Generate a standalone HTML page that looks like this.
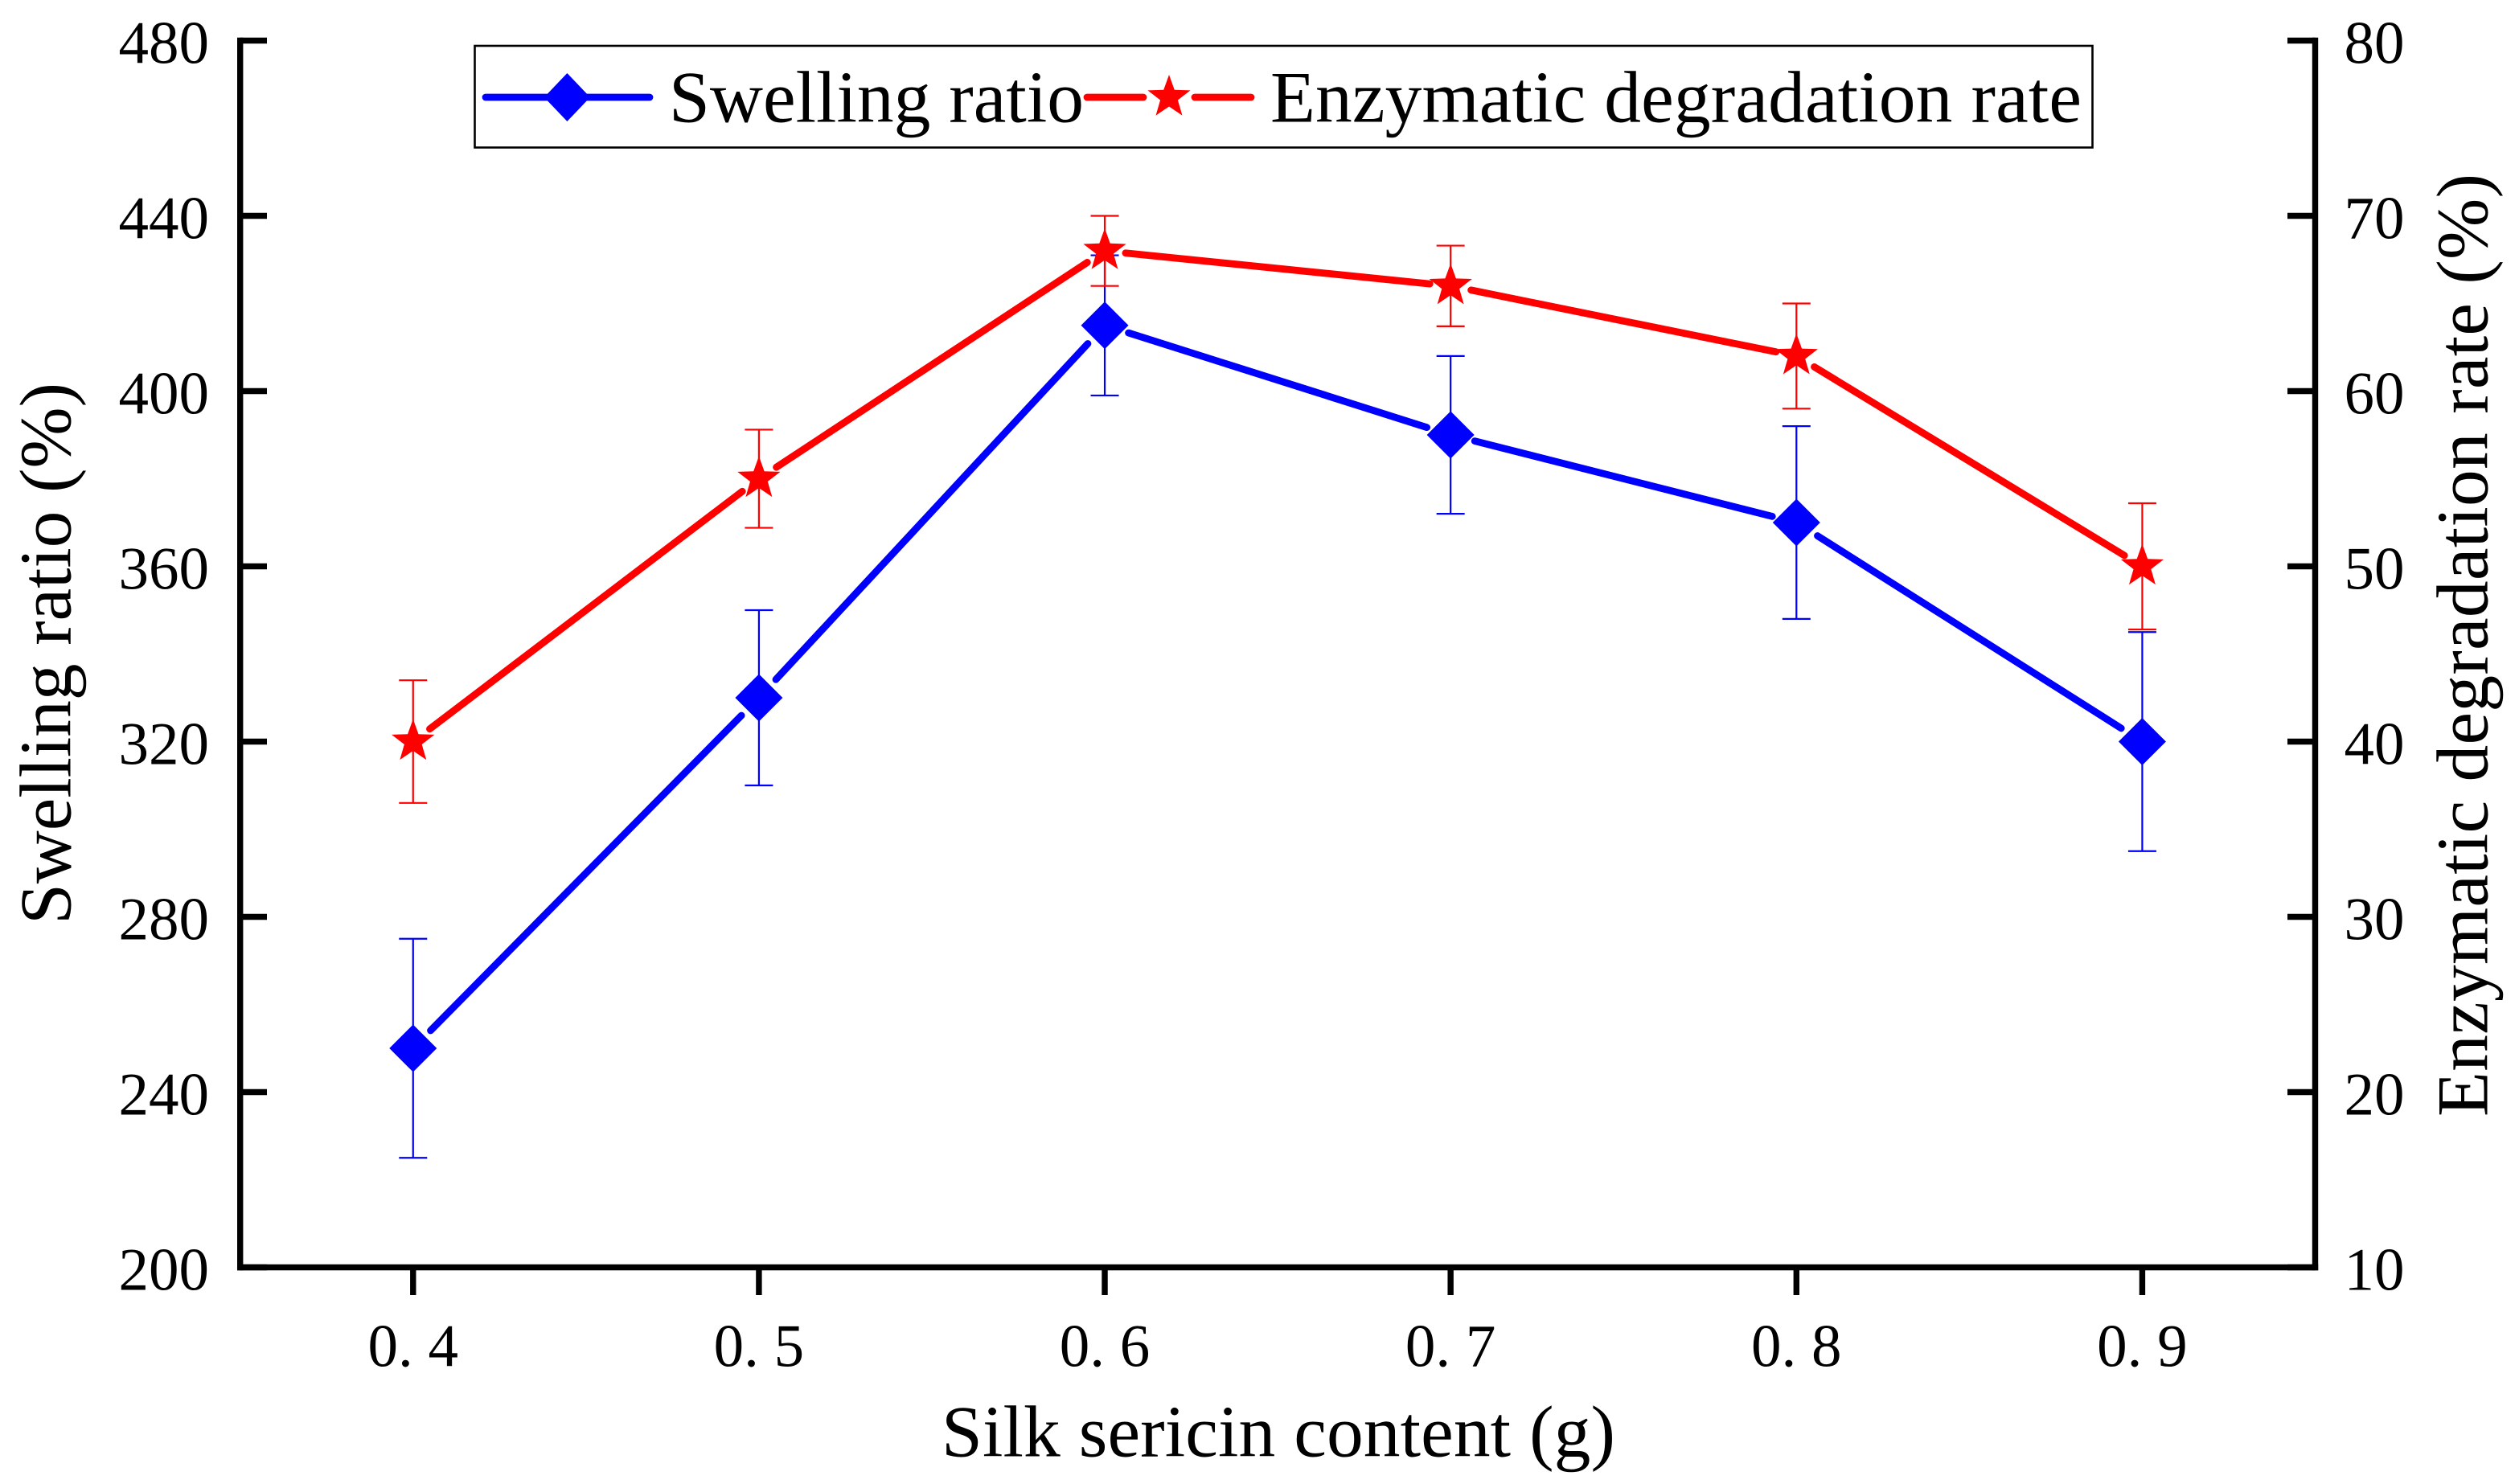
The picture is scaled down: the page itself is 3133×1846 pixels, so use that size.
<!DOCTYPE html>
<html lang="en">
<head>
<meta charset="utf-8">
<title>Swelling ratio and enzymatic degradation rate vs silk sericin content</title>
<style>
html,body{margin:0;padding:0;background:#fff;}
body{width:3133px;height:1846px;overflow:hidden;}
svg{display:block;}
text{font-family:"Liberation Serif",serif;fill:#000;}
.tick{font-size:75px;}
.title{font-size:91.5px;}
</style>
</head>
<body>
<svg id="chart" xmlns="http://www.w3.org/2000/svg" width="3133" height="1846" viewBox="0 0 3133 1846">
  <rect x="0" y="0" width="3133" height="1846" fill="#fff"/>
  <g id="axes"></g>
  <g id="series-swelling"></g>
  <g id="series-enzymatic"></g>

  <g>
    <rect x="590.5" y="57" width="2012" height="126.5" fill="#fff" stroke="#000" stroke-width="2.6"/>
    <line x1="604" y1="121" x2="808" y2="121" stroke="#0000ff" stroke-width="8.8" stroke-linecap="round"/>
    <polygon points="705.4,91 734,121 705.4,151 676.8,121" fill="#0000ff"/>
    <text class="title" x="832" y="151.7" textLength="516" lengthAdjust="spacing">Swelling ratio</text>
    <line x1="1352" y1="121" x2="1422" y2="121" stroke="#ff0000" stroke-width="8.8" stroke-linecap="round"/>
    <line x1="1486" y1="121" x2="1556" y2="121" stroke="#ff0000" stroke-width="8.8" stroke-linecap="round"/>
    <polygon id="legend-star" fill="#ff0000"/>
    <text class="title" x="1580" y="151.7" textLength="1009" lengthAdjust="spacing">Enzymatic degradation rate</text>
  </g>

  <text class="title" x="1171" y="1811.7" textLength="838" lengthAdjust="spacing">Silk sericin content (g)</text>
  <text class="title" transform="translate(87.3 1150) rotate(-90)" x="0" y="0" textLength="674" lengthAdjust="spacing">Swelling ratio (%)</text>
  <text class="title" transform="translate(3093.5 1389) rotate(-90)" x="0" y="0" textLength="1173" lengthAdjust="spacing">Enzymatic degradation rate (%)</text>
</svg>

<script>
const categories = [0.4, 0.5, 0.6, 0.7, 0.8, 0.9];
const categoryLabels = ['0. 4', '0. 5', '0. 6', '0. 7', '0. 8', '0. 9'];
const swellingValues = [250, 330, 415, 390, 370, 320];
const swellingErrors = [25, 20, 16, 18, 22, 25];
const enzymaticValues = [40, 55, 68, 66, 62, 50];
const enzymaticErrors = [3.5, 2.8, 2, 2.3, 3, 3.6];
const leftTicks = [200, 240, 280, 320, 360, 400, 440, 480];
const rightTicks = [10, 20, 30, 40, 50, 60, 70, 80];

const NS = 'http://www.w3.org/2000/svg';
const plot = { left: 298.7, right: 2879.5, top: 50.5, bottom: 1576.5 };
const xDomain = [0.35, 0.95];
const leftDomain = [200, 480];
const rightDomain = [10, 80];

function xScale(v) {
  return plot.left + (v - xDomain[0]) / (xDomain[1] - xDomain[0]) * (plot.right - plot.left);
}
function yLeft(v) {
  return plot.bottom - (v - leftDomain[0]) / (leftDomain[1] - leftDomain[0]) * (plot.bottom - plot.top);
}
function yRight(v) {
  return plot.bottom - (v - rightDomain[0]) / (rightDomain[1] - rightDomain[0]) * (plot.bottom - plot.top);
}
function make(tag, attrs, parent) {
  const el = document.createElementNS(NS, tag);
  for (const k in attrs) el.setAttribute(k, attrs[k]);
  parent.appendChild(el);
  return el;
}
function starPoints(cx, cy, R) {
  const r = R * 0.41;
  const pts = [];
  for (let i = 0; i < 10; i++) {
    const a = -Math.PI / 2 + i * Math.PI / 5;
    const rad = i % 2 === 0 ? R : r;
    pts.push((cx + rad * Math.cos(a)).toFixed(2) + ',' + (cy + rad * Math.sin(a)).toFixed(2));
  }
  return pts.join(' ');
}
function diamondPoints(cx, cy, h) {
  return [[cx, cy - h], [cx + h, cy], [cx, cy + h], [cx - h, cy]].map(p => p[0].toFixed(2) + ',' + p[1].toFixed(2)).join(' ');
}

document.getElementById('legend-star').setAttribute('points', starPoints(1454, 121, 28));

const axes = document.getElementById('axes');
const black = { stroke: '#000', 'stroke-width': 7.4, fill: 'none' };

const leftLine = make('line', Object.assign({ x1: plot.left, y1: plot.top - 3.7, x2: plot.left, y2: plot.bottom + 3.7 }, black), axes);


const rightLine = make('line', Object.assign({ x1: plot.right, y1: plot.top - 3.7, x2: plot.right, y2: plot.bottom + 3.7 }, black), axes);


const bottomLine = make('line', Object.assign({ x1: plot.left - 3.7, y1: plot.bottom, x2: plot.right + 3.7, y2: plot.bottom }, black), axes);



leftTicks.forEach(function (t) {
  const y = yLeft(t);
  const mark = make('line', Object.assign({ x1: plot.left, y1: y, x2: 332, y2: y }, black), axes);
  
  
  const label = make('text', { class: 'tick', x: 260, y: y + 28, 'text-anchor': 'end' }, axes);
  label.textContent = String(t);
  
  
});
rightTicks.forEach(function (t) {
  const y = yRight(t);
  const mark = make('line', Object.assign({ x1: plot.right, y1: y, x2: 2845, y2: y }, black), axes);
  
  
  const label = make('text', { class: 'tick', x: 2915.5, y: y + 28, 'text-anchor': 'start' }, axes);
  label.textContent = String(t);
  
  
});
categories.forEach(function (c, i) {
  const x = xScale(c);
  const mark = make('line', Object.assign({ x1: x, y1: plot.bottom, x2: x, y2: 1611 }, black), axes);
  
  
  const label = make('text', { class: 'tick', x: x, y: 1699.5, 'text-anchor': 'middle', 'xml:space': 'preserve' }, axes);
  label.textContent = categoryLabels[i];
  
  
});

function drawSeries(groupId, prefix, values, errors, yFn, color, gap, marker) {
  const g = document.getElementById(groupId);
  const capHalf = 17.5;
  values.forEach(function (v, i) {
    const x = xScale(categories[i]);
    const top = yFn(v + errors[i]);
    const bot = yFn(v - errors[i]);
    const stem = make('line', { x1: x, y1: top, x2: x, y2: bot, stroke: color, 'stroke-width': 2.2 }, g);
    
    
    const capT = make('line', { x1: x - capHalf, y1: top, x2: x + capHalf, y2: top, stroke: color, 'stroke-width': 2.2 }, g);
    
    
    const capB = make('line', { x1: x - capHalf, y1: bot, x2: x + capHalf, y2: bot, stroke: color, 'stroke-width': 2.2 }, g);
    
    
  });
  for (let i = 0; i < values.length - 1; i++) {
    const x1 = xScale(categories[i]);
    const y1 = yFn(values[i]);
    const x2 = xScale(categories[i + 1]);
    const y2 = yFn(values[i + 1]);
    const len = Math.hypot(x2 - x1, y2 - y1);
    const ux = (x2 - x1) / len;
    const uy = (y2 - y1) / len;
    const seg = make('line', {
      x1: x1 + ux * gap, y1: y1 + uy * gap,
      x2: x2 - ux * gap, y2: y2 - uy * gap,
      stroke: color, 'stroke-width': 8.8, 'stroke-linecap': 'round'
    }, g);
    
    
  }
  values.forEach(function (v, i) {
    const x = xScale(categories[i]);
    const y = yFn(v);
    const pts = marker === 'star' ? starPoints(x, y, 28) : diamondPoints(x, y, 29.5);
    const m = make('polygon', { points: pts, fill: color }, g);
    
    
  });
}

drawSeries('series-swelling', 'swelling', swellingValues, swellingErrors, yLeft, '#0000ff', 31, 'diamond');
drawSeries('series-enzymatic', 'enzymatic', enzymaticValues, enzymaticErrors, yRight, '#ff0000', 26, 'star');
</script>
</body>
</html>
